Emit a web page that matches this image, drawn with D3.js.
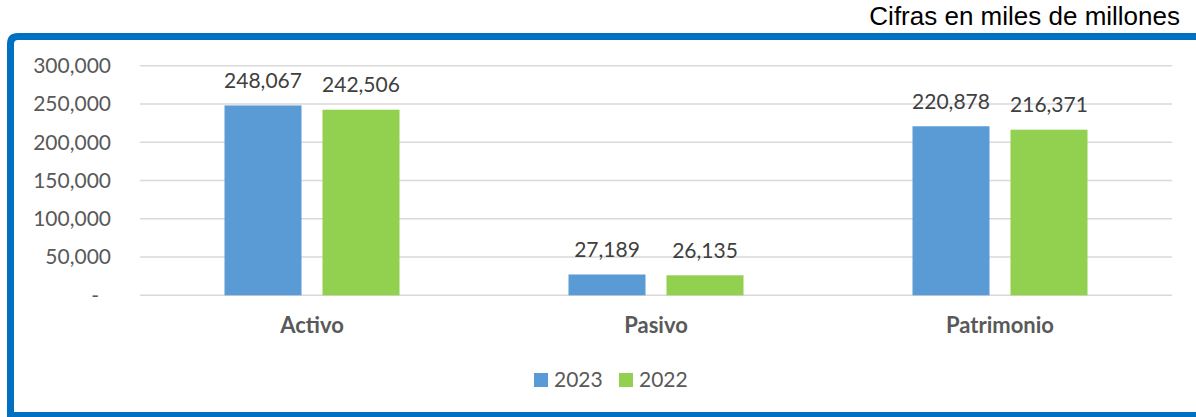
<!DOCTYPE html>
<html>
<head>
<meta charset="utf-8">
<script src="https://cdn.jsdelivr.net/npm/d3@7"></script>
<style>
  html, body { margin: 0; padding: 0; background: #fff; }
  svg { display: block; }
</style>
</head>
<body>
<svg id="chart" width="1196" height="417"></svg>
<script>
// Balance figures (miles de millones)
const categories = ["Activo", "Pasivo", "Patrimonio"];
const seriesNames = ["2023", "2022"];
const values2023 = [248067, 27189, 220878];
const values2022 = [242506, 26135, 216371];
const yTicks = [0, 50000, 100000, 150000, 200000, 250000, 300000];
const colors = ["#5B9BD5", "#92D050"];

const svg = d3.select("#chart");

// Frame with rounded top-left corner, open on the right edge
svg.append("path")
  .attr("d", "M1200,36.5 L18,36.5 Q10.5,36.5 10.5,44 L10.5,415.5 L1200,415.5")
  .attr("fill", "none")
  .attr("stroke", "#0070C0")
  .attr("stroke-width", 7);

// Unit note above frame
svg.append("text")
  .attr("x", 1180).attr("y", 25)
  .attr("text-anchor", "end")
  .attr("font-family", "Liberation Sans, Arial, sans-serif")
  .attr("font-size", 26)
  .attr("fill", "#000")
  .text("Cifras en miles de millones");

const plot = { left: 140, right: 1172, top: 65.7, bottom: 295.3 };

const x0 = d3.scaleBand().domain(categories).range([plot.left, plot.right]).paddingInner(0).paddingOuter(0);
const y = d3.scaleLinear().domain([0, 300000]).range([plot.bottom, plot.top]);

const barW = 77, barGap = 21;
const x1 = d3.scaleOrdinal().domain(seriesNames).range([-(barW + barGap / 2), barGap / 2]);

// Gridlines
svg.append("g")
  .selectAll("line")
  .data(yTicks)
  .join("line")
  .attr("x1", plot.left).attr("x2", plot.right)
  .attr("y1", d => y(d)).attr("y2", d => y(d))
  .attr("stroke", "#D9D9D9")
  .attr("stroke-width", 1.5);

// Y axis labels
const fmt = d3.format(",");
svg.append("g")
  .selectAll("text")
  .data(yTicks)
  .join("text")
  .attr("x", 111)
  .attr("y", d => y(d))
  .attr("dy", "0.35em")
  .attr("text-anchor", "end")
  .attr("font-family", "Lato, sans-serif")
  .attr("font-size", 21)
  .attr("fill", "#595959")
  .text(d => d === 0 ? "-" : fmt(d))
  .filter(d => d === 0).attr("x", 99);

// Bars
const rows = categories.map((c, i) => ({ cat: c, vals: [values2023[i], values2022[i]] }));
const groups = svg.append("g")
  .selectAll("g")
  .data(rows)
  .join("g")
  .attr("transform", d => `translate(${x0(d.cat) + x0.bandwidth() / 2},0)`);

groups.selectAll("rect")
  .data(d => d.vals.map((v, j) => ({ s: seriesNames[j], v, j })))
  .join("rect")
  .attr("x", d => x1(d.s))
  .attr("width", barW)
  .attr("y", d => y(d.v))
  .attr("height", d => y(0) - y(d.v))
  .attr("fill", d => colors[d.j]);

groups.selectAll("text")
  .data(d => d.vals.map((v, j) => ({ s: seriesNames[j], v, j })))
  .join("text")
  .attr("x", d => x1(d.s) + barW / 2)
  .attr("y", d => y(d.v) - 25)
  .attr("dy", "0.35em")
  .attr("text-anchor", "middle")
  .attr("font-family", "Lato, sans-serif")
  .attr("font-size", 21)
  .attr("fill", "#404040")
  .text(d => fmt(d.v));

// Category labels
svg.append("g")
  .selectAll("text")
  .data(categories)
  .join("text")
  .attr("x", d => x0(d) + x0.bandwidth() / 2)
  .attr("y", 325)
  .attr("dy", "0.35em")
  .attr("text-anchor", "middle")
  .attr("font-family", "Lato, sans-serif")
  .attr("font-weight", "bold")
  .attr("font-size", 22)
  .attr("fill", "#595959")
  .text(d => d);

// Legend
const legendX = [534, 619];
const legend = svg.append("g")
  .selectAll("g")
  .data(seriesNames)
  .join("g")
  .attr("transform", (d, i) => `translate(${legendX[i]},373)`);
legend.append("rect")
  .attr("width", 14).attr("height", 14)
  .attr("fill", (d, i) => colors[i]);
legend.append("text")
  .attr("x", 20).attr("y", 7)
  .attr("dy", "0.35em")
  .attr("font-family", "Lato, sans-serif")
  .attr("font-size", 21)
  .attr("fill", "#595959")
  .text(d => d);
</script>
</body>
</html>
